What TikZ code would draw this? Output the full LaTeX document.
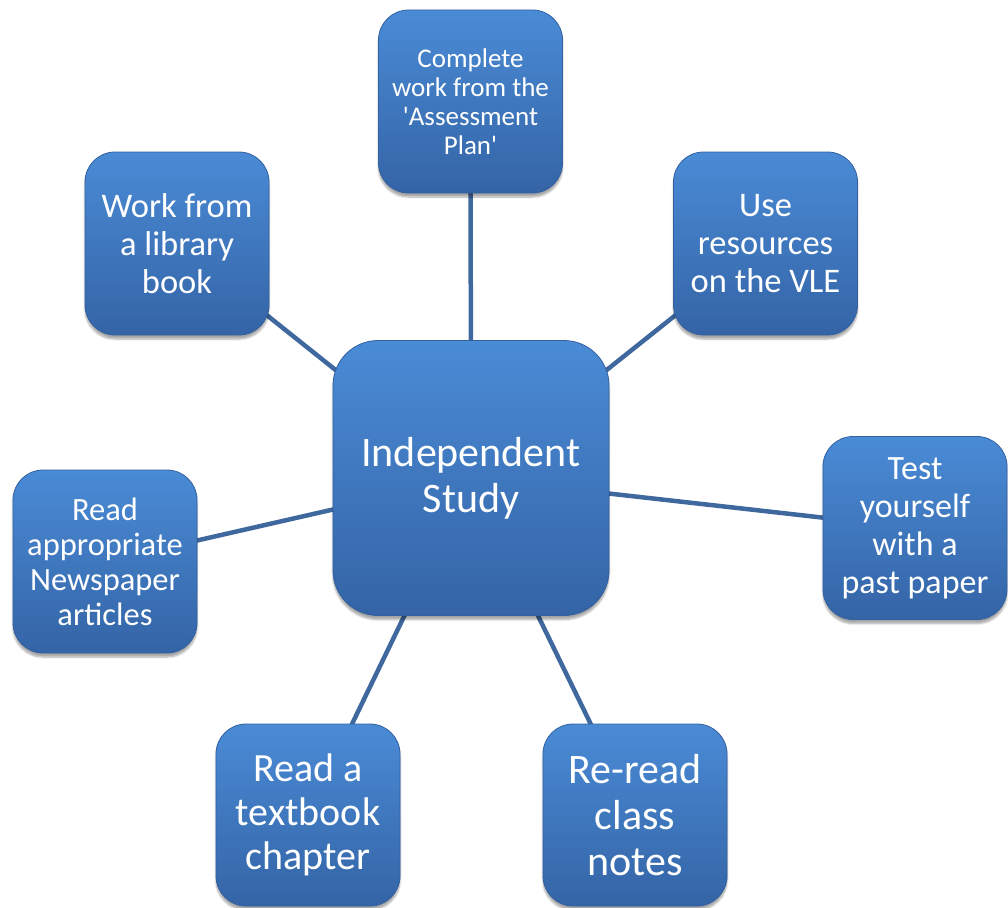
\documentclass[tikz,border=0pt]{standalone}
\usepackage{fontspec}
\setmainfont{Carlito}
\usepackage{xcolor}
\usetikzlibrary{backgrounds,shadows.blur}
\definecolor{boxtop}{RGB}{74,139,214}
\definecolor{boxbot}{RGB}{52,100,166}
\definecolor{boxedge}{RGB}{50,96,160}
\definecolor{spoke}{RGB}{63,104,158}

\begin{document}
\begin{tikzpicture}[x=1pt,y=-1pt,
  card/.style={rounded corners=30pt, draw=boxedge, line width=0.8pt,
    top color=boxtop, bottom color=boxbot, text=white, align=center,
    inner sep=0pt, minimum width=184pt, minimum height=183pt,
    blur shadow={shadow xshift=0pt, shadow yshift=-4pt, shadow blur steps=6, shadow opacity=35}},
  hubcard/.style={card, rounded corners=45pt, minimum width=276pt, minimum height=275pt},
  link/.style={draw=spoke, line width=4.5pt}]
  \useasboundingbox (0,0) rectangle (1008,907);

  \node[hubcard, font=\fontsize{42}{46}\selectfont] (hub) at (471,478) {Independent\\Study};

  \node[card, font=\fontsize{27}{29}\selectfont] (plan) at (470.5,101.5) {Complete\\work from the\\\textquotesingle Assessment\\Plan\textquotesingle};
  \node[card, font=\fontsize{34.5}{38}\selectfont] (library) at (177,243.5) {Work from\\a library\\book};
  \node[card, font=\fontsize{34.5}{38}\selectfont] (vle) at (765.5,243.5) {Use\\resources\\on the VLE};
  \node[card, font=\fontsize{34}{38}\selectfont] (pastpaper) at (915,528) {Test\\yourself\\with a\\past paper};
  \node[card, font=\fontsize{32.5}{35}\selectfont] (newspaper) at (105,561.5) {Read\\appropriate\\Newspaper\\articles};
  \node[card, minimum height=182pt, font=\fontsize{40}{44}\selectfont] (textbook) at (308,815) {Read a\\textbook\\chapter};
  \node[card, minimum height=182pt, font=\fontsize{42}{46}\selectfont] (notes) at (635,815) {Re-read\\class\\notes};

  \begin{scope}[on background layer]
    \foreach \leaf in {plan,library,vle,pastpaper,newspaper,textbook,notes}
      \draw[link] (hub.center) -- (\leaf.center);
  \end{scope}
\end{tikzpicture}
\end{document}
